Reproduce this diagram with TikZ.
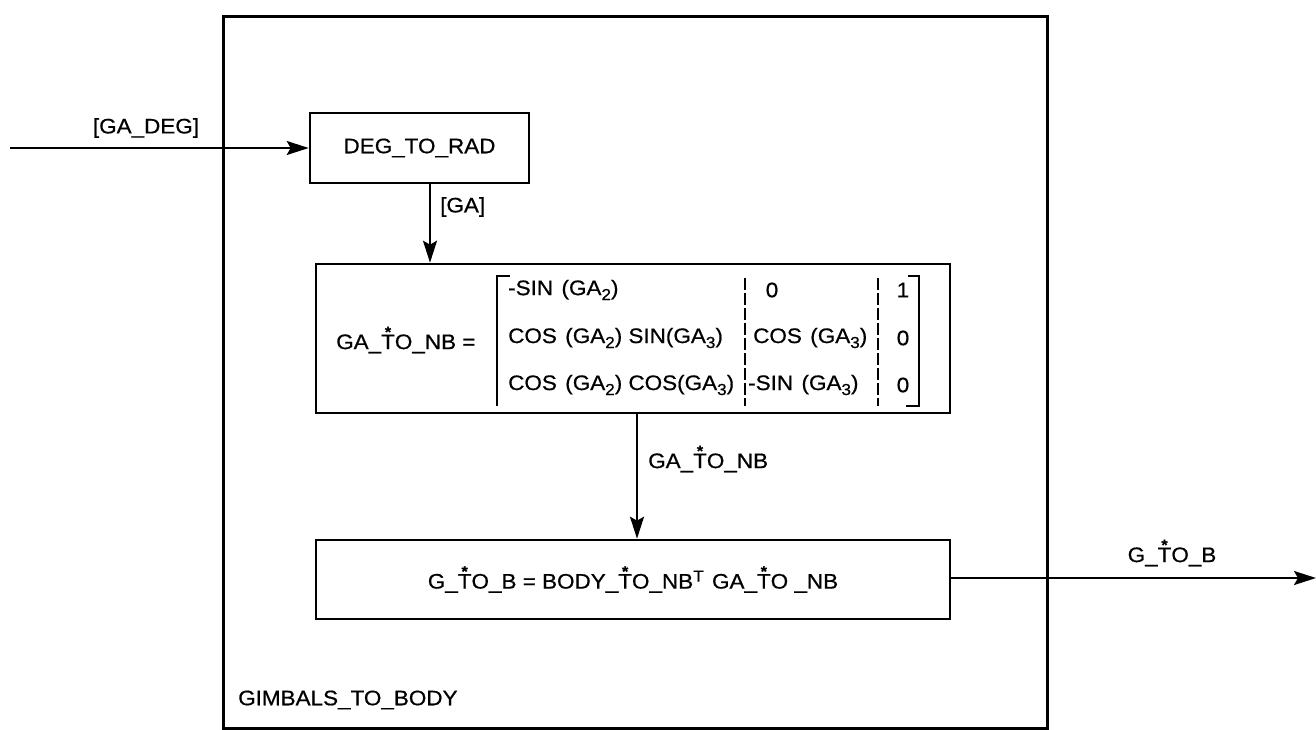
\documentclass[tikz,border=0pt]{standalone}
\usepackage{fontspec}
\setmainfont{Liberation Sans}[FakeStretch=1.07,FakeBold=0.6]
\usetikzlibrary{arrows.meta,calc}
\newcommand\starred[1]{\setbox0\hbox{#1}\rlap{\hbox to \wd0{\hss\raisebox{12pt}{\fontsize{15}{15}\selectfont\bfseries *}\hss}}\box0}
\newcommand\gap{\hspace{0.4em}}
\newcommand\subs[1]{\raisebox{-5pt}{\fontsize{16}{16}\selectfont #1}}
\newcommand\sups[1]{\raisebox{7pt}{\fontsize{16}{16}\selectfont #1}}
\begin{document}
\begin{tikzpicture}[x=1pt,y=-1pt,
  font=\fontsize{21}{25}\selectfont,
  box/.style={draw, line width=2.6pt, inner sep=0pt},
  flow/.style={line width=2.2pt, -{Stealth[length=22pt,width=14pt,inset=4pt]}},
  lbl/.style={inner sep=0pt},
  sepline/.style={line width=1.8pt, dash pattern=on 12pt off 3pt},
  brk/.style={line width=2pt}]
\useasboundingbox (0,0) rectangle (1316,729);
% outer frame
\node[box, anchor=north west, minimum width=824pt, minimum height=712pt] (frame) at (222,15) {};
\node[lbl, anchor=west] (title) at (238,700) {GIMBALS\_TO\_BODY};
% deg to rad
\node[box, minimum width=219pt, minimum height=70pt] (deg) at (419.5,148) {DEG\_TO\_RAD};
\coordinate (in) at (10,148);
\draw[flow] (in) -- (deg.west);
\node[lbl] (gadeg) at (146,128) {[GA\_DEG]};
% matrix box
\node[box, minimum width=634pt, minimum height=149pt] (mat) at (633,338.5) {};
\coordinate (ax) at (430,0);
\draw[flow] (deg.south -| ax) -- (mat.north -| ax);
\node[lbl, anchor=west] (ga) at (440,207) {[GA]};
\node[lbl, anchor=west] (lhs) at (336,340) {GA\_\starred{T}O\_NB =};
% brackets
\coordinate (lbt) at (497,276);
\coordinate (lbb) at (497,406);
\coordinate (lbtt) at (510,276);
\draw[brk] (lbtt) -- (lbt) -- (lbb);
\coordinate (rbt) at (919,276);
\coordinate (rbb) at (919,406);
\coordinate (rbtt) at (908,276);
\coordinate (rbbt) at (906,406);
\draw[brk] (rbtt) -- (rbt) -- (rbb) -- (rbbt);
% separators
\coordinate (s1t) at (745,278);
\coordinate (s1b) at (745,406);
\coordinate (s2t) at (878,278);
\coordinate (s2b) at (878,406);
\draw[sepline] (s1t) -- (s1b);
\draw[sepline] (s2t) -- (s2b);
% entries
\node[lbl, anchor=west] (m11) at (508,290) {-SIN\gap(GA\subs{2})};
\node[lbl, anchor=west] (m21) at (508,338) {COS\gap(GA\subs{2}) SIN(GA\subs{3})};
\node[lbl, anchor=west] (m31) at (508,385) {COS\gap(GA\subs{2}) COS(GA\subs{3})};
\node[lbl] (m12) at (772,290) {0};
\node[lbl, anchor=west] (m22) at (753,338) {COS\gap(GA\subs{3})};
\node[lbl, anchor=west] (m32) at (748,385) {-SIN\gap(GA\subs{3})};
\node[lbl] (m13) at (903,290) {1};
\node[lbl] (m23) at (903,338) {0};
\node[lbl] (m33) at (903,385) {0};
% bottom box
\node[box, minimum width=634pt, minimum height=79pt] (bot) at (633,579.5) {G\_\starred{T}O\_B = BODY\_\starred{T}O\_NB\sups{T}\gap GA\_\starred{T}O \_NB};
\coordinate (bx) at (637,0);
\draw[flow] (mat.south -| bx) -- (bot.north -| bx);
\node[lbl, anchor=west] (gatonb) at (648,459) {GA\_\starred{T}O\_NB};
% output
\coordinate (out) at (1316,578);
\draw[flow] (bot.east |- out) -- (out);
\node[lbl] (gtob) at (1172,553) {G\_\starred{T}O\_B};
\end{tikzpicture}
\end{document}
